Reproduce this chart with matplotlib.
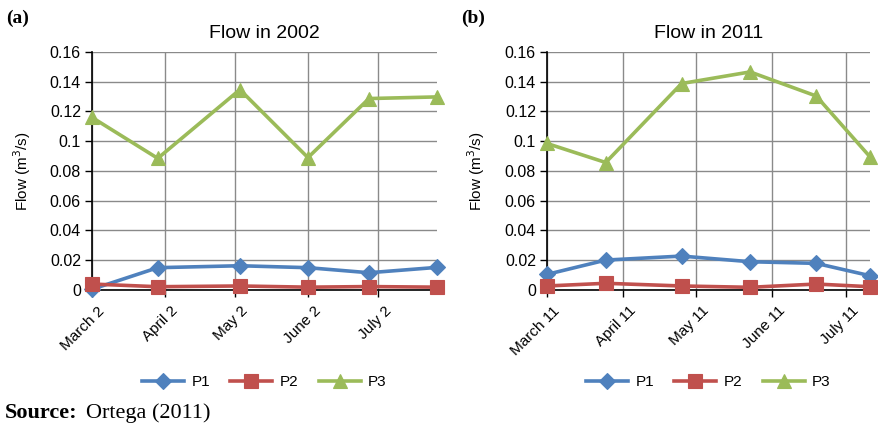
import matplotlib
matplotlib.use("Agg")
import matplotlib.pyplot as plt
import matplotlib.dates as mdates
import matplotlib.transforms as mtransforms
import numpy as np
from datetime import datetime

plt.rcParams['font.family'] = ['Liberation Sans', 'DejaVu Sans']

# ---- data ----
dates_2002 = ["2002-03-02", "2002-03-30", "2002-05-04", "2002-06-02", "2002-06-28", "2002-07-27"]
p1_2002 = [0.0005, 0.015, 0.0163, 0.015, 0.0116, 0.0152]
p2_2002 = [0.004, 0.0022, 0.0027, 0.0019, 0.0023, 0.0019]
p3_2002 = [0.116, 0.0885, 0.1347, 0.089, 0.1287, 0.1298]
ticks_2002 = ["2002-03-02", "2002-04-02", "2002-05-02", "2002-06-02", "2002-07-02"]
ticklabels_2002 = ["March 2", "April 2", "May 2", "June 2", "July 2"]

dates_2011 = ["2011-03-11", "2011-04-04", "2011-05-05", "2011-06-02", "2011-06-29", "2011-07-21"]
p1_2011 = [0.0105, 0.0201, 0.0228, 0.019, 0.0179, 0.0096]
p2_2011 = [0.0027, 0.0045, 0.0027, 0.0018, 0.004, 0.0022]
p3_2011 = [0.0985, 0.0857, 0.1388, 0.1466, 0.1304, 0.0895]
ticks_2011 = ["2011-03-11", "2011-04-11", "2011-05-11", "2011-06-11", "2011-07-11"]
ticklabels_2011 = ["March 11", "April 11", "May 11", "June 11", "July 11"]

series_names = ["P1", "P2", "P3"]
colors = ["#4F81BD", "#C0504D", "#9BBB59"]
markers = ["D", "s", "^"]
msizes = [8.5, 9.5, 10]

yticks = [0, 0.02, 0.04, 0.06, 0.08, 0.1, 0.12, 0.14, 0.16]
yticklabels = ["0", "0.02", "0.04", "0.06", "0.08", "0.1", "0.12", "0.14", "0.16"]

def to_num(lst):
    return mdates.date2num([datetime.strptime(d, "%Y-%m-%d") for d in lst])

fig = plt.figure(figsize=(8.79, 4.30), dpi=100)

panels = [
    ([0.1047, 0.3256, 0.3925, 0.5535], dates_2002, [p1_2002, p2_2002, p3_2002],
     ticks_2002, ticklabels_2002, "Flow in 2002", "(a)", 0.007, -0.172),
    ([0.6223, 0.3256, 0.3675, 0.5535], dates_2011, [p1_2011, p2_2011, p3_2011],
     ticks_2011, ticklabels_2011, "Flow in 2011", "(b)", 0.525, -0.186),
]

shift = mtransforms.ScaledTranslation(4 / 72, 0, fig.dpi_scale_trans)

for rect, dates, vals, ticks, tlabels, title, tag, tagx, ylabx in panels:
    ax = fig.add_axes(rect)
    x = to_num(dates)
    handles = []
    for v, c, m, ms, name in zip(vals, colors, markers, msizes, series_names):
        h, = ax.plot(x, v, color=c, lw=2.6, marker=m, markersize=ms,
                     markerfacecolor=c, markeredgecolor=c, markeredgewidth=0.8,
                     label=name, clip_on=False, zorder=3)
        handles.append(h)
    ax.set_xlim(x[0], x[-1])
    ax.set_ylim(0, 0.16)
    ax.tick_params(axis='y', direction='out', length=5, width=1, pad=3)
    ax.tick_params(axis='x', direction='out', length=5, width=1, pad=5)
    ax.set_yticks(yticks)
    ax.set_yticklabels(yticklabels, fontsize=11.5)
    tx = to_num(ticks)
    ax.set_xticks(tx)
    ax.set_xticklabels(tlabels, rotation=45, ha='right', rotation_mode='anchor', fontsize=11)
    for tk in ax.xaxis.get_major_ticks():
        tk.label1.set_transform(tk.label1.get_transform() + shift)
    ax.grid(True, color='#8a8a8a', lw=1.0)
    ax.set_axisbelow(True)
    for s in ['top', 'right']:
        ax.spines[s].set_visible(False)
    ax.spines['left'].set_color('black')
    ax.spines['bottom'].set_color('black')
    ax.spines['left'].set_linewidth(1.2)
    ax.spines['bottom'].set_linewidth(1.2)
    ax.set_title(title, fontsize=14, pad=10)
    ax.set_ylabel("Flow (m$^3$/s)", fontsize=11)
    ax.yaxis.set_label_coords(ylabx, 0.5)
    ax.legend(handles=handles, loc='center', bbox_to_anchor=(0.5, -0.387),
              ncol=3, frameon=False, fontsize=11, handlelength=2.75,
              columnspacing=1.3, handletextpad=0.5)
    fig.text(tagx, 0.957, tag, fontsize=14, fontweight='bold',
             family='Liberation Serif', va='center', ha='left')

fig.text(0.006, 0.028, "Source:", fontsize=16, fontweight='bold',
         family='Liberation Serif', va='baseline', ha='left')
fig.text(0.098, 0.028, "Ortega (2011)", fontsize=16,
         family='Liberation Serif', va='baseline', ha='left')

fig.savefig("out.png", dpi=100)
